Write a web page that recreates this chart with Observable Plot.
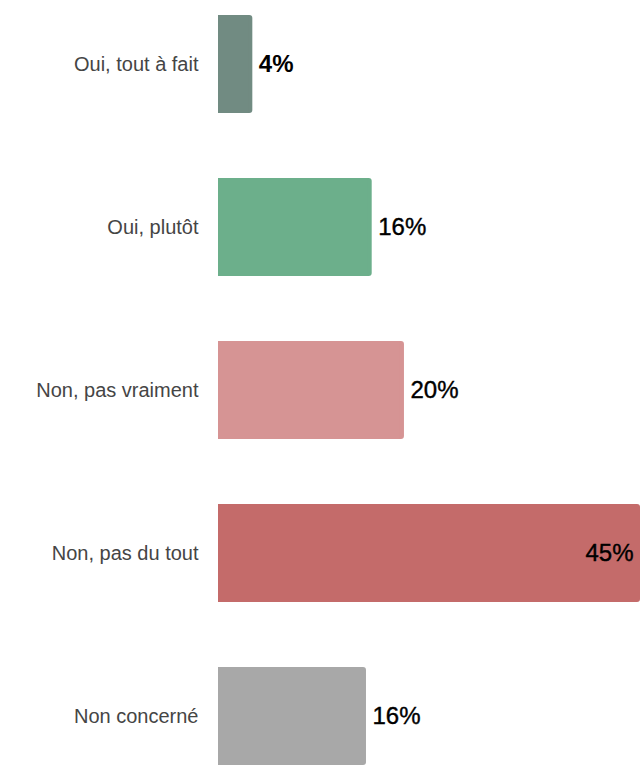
<!DOCTYPE html>
<html>
<head>
<meta charset="utf-8">
<script src="https://cdn.jsdelivr.net/npm/d3@7"></script>
<script src="https://cdn.jsdelivr.net/npm/@observablehq/plot@0.6"></script>
<style>
  html, body { margin: 0; padding: 0; background: #fff; }
  #chart svg { display: block; }
</style>
</head>
<body>
<div id="chart"></div>
<script>
const categories = ["Oui, tout à fait", "Oui, plutôt", "Non, pas vraiment", "Non, pas du tout", "Non concerné"];
const values = [3.66, 16.39, 19.83, 45, 15.78];
const labels = ["4%", "16%", "20%", "45%", "16%"];
const colors = ["#718b82", "#6caf8b", "#d69494", "#c46b6a", "#a8a8a8"];

const data = categories.map((c, i) => ({category: c, value: values[i], label: labels[i], color: colors[i], i}));
const maxV = d3.max(values);

const chart = Plot.plot({
  width: 641,
  height: 771,
  marginLeft: 218,
  marginRight: 1,
  marginTop: 14,
  marginBottom: 6,
  style: {fontFamily: "'Liberation Sans', Arial, sans-serif", background: "#fff"},
  x: {domain: [0, maxV], axis: null},
  y: {domain: categories, paddingInner: 0.4, paddingOuter: 0, label: null},
  marks: [
    Plot.barX(data, {x: "value", y: "category", fill: "color", rx: 3}),
    Plot.barX(data, {x: "value", y: "category", fill: "color", insetRight: 4}),
    Plot.axisY({tickSize: 0, tickPadding: 20, fontSize: 20, color: "#454545", label: null}),
    Plot.text(data.filter(d => d.i === 0), {x: "value", y: "category", text: "label", textAnchor: "start", dx: 6, fontSize: 24, fontWeight: "bold", fill: "#000"}),
    Plot.text(data.filter(d => d.i > 0 && d.value < maxV), {x: "value", y: "category", text: "label", textAnchor: "start", dx: 6, fontSize: 24, fill: "#000", stroke: "#000", strokeWidth: 0.4}),
    Plot.text(data.filter(d => d.value === maxV), {x: "value", y: "category", text: "label", textAnchor: "end", dx: -7, fontSize: 24, fill: "#000", stroke: "#000", strokeWidth: 0.4})
  ]
});
document.getElementById("chart").appendChild(chart);
</script>
</body>
</html>
